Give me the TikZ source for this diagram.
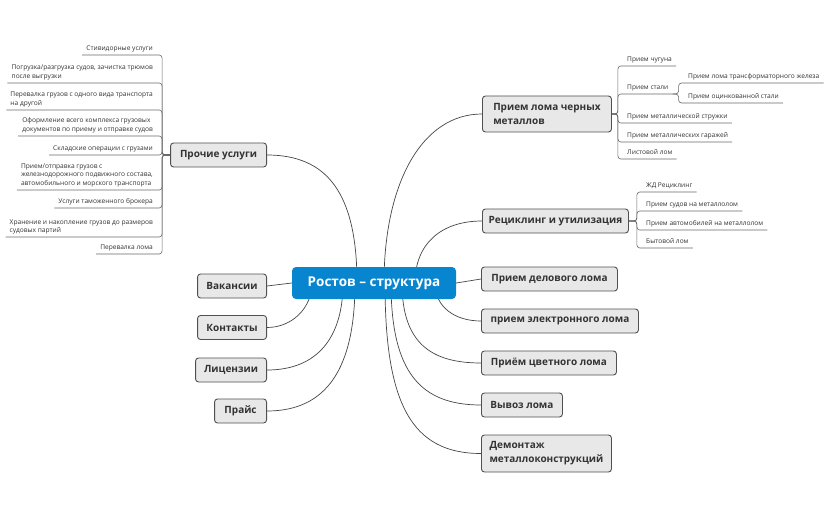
\documentclass[tikz,border=0pt]{standalone}
\usepackage{fontspec}
\setmainfont{Open Sans}
\usetikzlibrary{calc,backgrounds}
\definecolor{cblue}{RGB}{8,133,207}
\definecolor{nfill}{RGB}{232,232,232}
\definecolor{nline}{RGB}{80,80,80}
\definecolor{ctext}{RGB}{51,51,51}
\definecolor{lline}{RGB}{70,70,70}
\definecolor{sline}{RGB}{105,105,105}
\begin{document}
\begin{tikzpicture}[x=1pt,y=-1pt,
  central/.style={fill=cblue, rounded corners=4pt, minimum width=164pt, minimum height=32pt, text=white, font=\fontsize{13.5}{16}\selectfont\bfseries, inner sep=0pt},
  topic/.style={fill=nfill, draw=nline, line width=0.9pt, rounded corners=3pt, minimum height=24pt, text=ctext, font=\fontsize{10}{14}\selectfont\bfseries, align=left, inner xsep=6pt, inner ysep=3pt},
  sub/.style={text=ctext, font=\fontsize{6.6}{8.5}\selectfont, inner xsep=4pt, inner ysep=2.5pt, text depth=1.8pt, align=left},
  link/.style={draw=lline, line width=0.7pt},
  subline/.style={draw=sline, line width=0.6pt, rounded corners=3pt},
]
\useasboundingbox (0,0) rectangle (829,513);

% central
\node[central] (c) at (374,283) {Ростов – структура};

% right topics
\node[topic, anchor=west, minimum width=129pt, minimum height=36pt] (black) at (482,114) {Прием лома черных\\металлов};
\node[topic, anchor=west, minimum width=146pt] (recyc) at (482,221) {Рециклинг и утилизация};
\node[topic, anchor=west, minimum width=136pt] (delo) at (481,279) {Прием делового лома};
\node[topic, anchor=west, minimum width=157pt] (elec) at (481,321) {прием электронного лома};
\node[topic, anchor=west, minimum width=135pt] (color) at (481,363) {Приём цветного лома};
\node[topic, anchor=west, minimum width=81pt] (vyvoz) at (481,405) {Вывоз лома};
\node[topic, anchor=west, minimum width=130pt, minimum height=37pt] (demon) at (481,453.5) {Демонтаж\\металлоконструкций};

% left topics
\node[topic, anchor=east, minimum width=96pt] (prochie) at (267,155) {Прочие услуги};
\node[topic, anchor=east, minimum width=69pt] (vakan) at (267,286) {Вакансии};
\node[topic, anchor=east, minimum width=69pt] (kont) at (267,327.5) {Контакты};
\node[topic, anchor=east, minimum width=71pt] (lic) at (267,370) {Лицензии};
\node[topic, anchor=east, minimum width=52pt] (price) at (267,411) {Прайс};

% main connectors
\begin{scope}[on background layer]
\fill[white] (0,0) rectangle (829,513);
\draw[link] ([xshift=10pt]c.center) .. controls +(0,-100) and +(-60,0) .. (black.west);
\draw[link] ([xshift=41pt]c.center) .. controls +(0,-40) and +(-40,0) .. (recyc.west);
\draw[link] (c.east) -- (delo.west);
\draw[link] ([xshift=61pt]c.center) .. controls +(0,25) and +(-25,0) .. (elec.west);
\draw[link] ([xshift=28pt]c.center) .. controls +(0,60) and +(-50,0) .. (color.west);
\draw[link] ([xshift=17pt]c.center) .. controls +(0,90) and +(-60,0) .. (vyvoz.west);
\draw[link] ([xshift=11pt]c.center) .. controls +(0,120) and +(-70,0) .. (demon.west);
\draw[link] ([xshift=-17pt]c.center) .. controls +(0,-90) and +(60,0) .. (prochie.east);
\draw[link] (c.west) -- (vakan.east);
\draw[link] ([xshift=-62pt]c.center) .. controls +(0,25) and +(25,0) .. (kont.east);
\draw[link] ([xshift=-31pt]c.center) .. controls +(0,55) and +(50,0) .. (lic.east);
\draw[link] ([xshift=-19pt]c.center) .. controls +(0,85) and +(60,0) .. (price.east);
\end{scope}

% black metal subtopics
\node[sub, anchor=south west] (b1) at (623,66) {Прием чугуна};
\node[sub, anchor=south west] (b2) at (623,94) {Прием стали};
\node[sub, anchor=south west] (b21) at (684,83) {Прием лома трансформаторного железа};
\node[sub, anchor=south west] (b22) at (684,103) {Прием оцинкованной стали};
\node[sub, anchor=south west] (b3) at (623,123) {Прием металлической стружки};
\node[sub, anchor=south west] (b4) at (623,142) {Прием металлических гаражей};
\node[sub, anchor=south west] (b5) at (623,159) {Листовой лом};
\foreach \n in {b1,b2,b3,b4,b5}
  \draw[subline] (black.east) -- ++(6,0) |- (\n.south east);
\foreach \n in {b21,b22}
  \draw[subline] (b2.south east) -- ++(6,0) |- (\n.south east);

% recycling subtopics
\node[sub, anchor=south west] (r1) at (642,192) {ЖД Рециклинг};
\node[sub, anchor=south west] (r2) at (642,211) {Прием судов на металлолом};
\node[sub, anchor=south west] (r3) at (642,230) {Прием автомобилей на металлолом};
\node[sub, anchor=south west] (r4) at (642,248) {Бытовой лом};
\foreach \n in {r1,r2,r3,r4}
  \draw[subline] (recyc.east) -- ++(8,0) |- (\n.south east);

% other services subtopics
\node[sub, anchor=south east] (l1) at (157,55) {Стивидорные услуги};
\node[sub, anchor=south east] (l2) at (157,83) {Погрузка/разгрузка судов, зачистка трюмов\\после выгрузки};
\node[sub, anchor=south east] (l3) at (157,110) {Перевалка грузов с одного вида транспорта\\на другой};
\node[sub, anchor=south east] (l4) at (157,136) {Оформление всего комплекса грузовых\\документов по приему и отправке судов};
\node[sub, anchor=south east] (l5) at (157,155) {Складские операции с грузами};
\node[sub, anchor=south east] (l6) at (157,190) {Прием/отправка грузов с\\железнодорожного подвижного состава,\\автомобильного и морского транспорта};
\node[sub, anchor=south east] (l7) at (157,208) {Услуги таможенного брокера};
\node[sub, anchor=south east] (l8) at (157,237) {Хранение и накопление грузов до размеров\\судовых партий};
\node[sub, anchor=south east] (l9) at (157,254) {Перевалка лома};
\foreach \n in {l1,l2,l3,l4,l5,l6,l7,l8,l9}
  \draw[subline] (prochie.west) -- ++(-8,0) |- (\n.south west);
\end{tikzpicture}
\end{document}
